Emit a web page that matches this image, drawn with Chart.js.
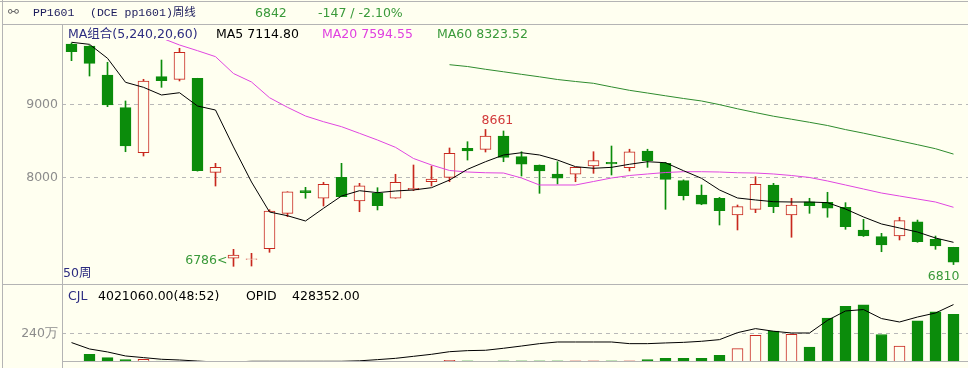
<!DOCTYPE html>
<html>
<head>
<meta charset="utf-8">
<script src="https://cdn.jsdelivr.net/npm/chart.js@4.4.1/dist/chart.umd.min.js"></script>
<style>
  html, body { margin: 0; padding: 0; background: #fffff0; }
  #wrap { position: relative; width: 968px; height: 368px; overflow: hidden; background: #fffff0;
          font-family: "DejaVu Sans", sans-serif; font-size: 12.5px; }
  .t { position: absolute; white-space: nowrap; line-height: 14px; }
  .ln { position: absolute; background: #b4b4b4; }
  canvas { position: absolute; left: 0; }
</style>
</head>
<body>
<div id="wrap">
  <canvas id="priceCanvas" width="968" height="285" style="top:0"></canvas>
  <canvas id="volCanvas" width="968" height="83" style="top:285px"></canvas>

  <!-- frame -->
  <div class="ln" style="left:0;top:1px;width:968px;height:1px"></div>
  <div class="ln" style="left:2px;top:0;width:1px;height:368px"></div>
  <div class="ln" style="left:2px;top:24px;width:966px;height:1px"></div>
  <div class="ln" style="left:62px;top:25px;width:1px;height:343px"></div>
  <div class="ln" style="left:2px;top:284px;width:966px;height:1px"></div>
  <div class="ln" style="left:62px;top:361px;width:906px;height:1px"></div>

  <!-- title row -->
  <div class="t" style="left:8px;top:5px;color:#6a6a6a;font-size:13px">⚯</div>
  <div class="t" style="left:33px;top:6px;color:#1c1c5c;font-family:'Liberation Mono',monospace;font-size:11.5px">PP1601</div>
  <div class="t" id="contractName" style="left:90px;top:6px;color:#1c1c5c;font-family:'Liberation Mono','Noto Sans CJK SC',monospace;font-size:11.5px"></div>
  <div class="t" id="lastPrice" style="left:255px;top:6px;color:#3a9a3a"></div>
  <div class="t" id="lastChange" style="left:318px;top:6px;color:#3a9a3a"></div>

  <!-- moving average legend -->
  <div class="t" style="left:68px;top:27px;color:#2c2c80;font-family:'DejaVu Sans','Noto Sans CJK SC',sans-serif">MA组合(5,240,20,60)</div>
  <div class="t" id="ma5Label" style="left:216px;top:27px;color:#000"></div>
  <div class="t" id="ma20Label" style="left:322px;top:27px;color:#e040e0"></div>
  <div class="t" id="ma60Label" style="left:437px;top:27px;color:#3a9a3a"></div>

  <div class="t" id="periodLabel" style="left:63px;top:266px;color:#2c2c80;font-family:'DejaVu Sans','Noto Sans CJK SC',sans-serif"></div>

  <!-- volume header -->
  <div class="t" style="left:68px;top:289px;color:#2c2c80">CJL</div>
  <div class="t" id="volLabel" style="left:98px;top:289px;color:#000"></div>
  <div class="t" style="left:246px;top:289px;color:#000">OPID</div>
  <div class="t" id="opiLabel" style="left:292px;top:289px;color:#000"></div>
</div>

<script>
// ---- weekly bars, PP1601 (DCE) ----
const contract = "(DCE pp1601)周线";
const prevSettle = 6989;
const openInterest = 428352;

const open  = [9832, 9804, 9407, 8959, 8342, 9384, 9348, 9362, 8074, 6896,
               6880, 7027, 7512, 7822, 7718, 8005, 7681, 7786, 7718, 7832,
               7945, 8005, 8403, 8389, 8571, 8288, 8174, 8051, 8047, 8160,
               8211, 8137, 8366, 8197, 7959, 7763, 7718, 7489, 7567, 7900,
               7489, 7671, 7663, 7595, 7284, 7192, 7201, 7397, 7156, 7047];
const high  = [9845, 9810, 9581, 9051, 9348, 9612, 9773, 9362, 8197, 7019,
               6964, 7562, 7808, 7868, 7937, 8197, 7923, 7863, 8047, 8174,
               8160, 8407, 8493, 8661, 8640, 8356, 8174, 8219, 8142, 8356,
               8434, 8390, 8390, 8210, 7970, 7900, 7730, 7626, 8014, 7923,
               7718, 7718, 7800, 7658, 7430, 7238, 7458, 7420, 7201, 7047];
const low   = [9603, 9393, 8973, 8356, 8297, 9238, 9325, 8090, 7886, 6786,
               6790, 6978, 7466, 7718, 7612, 7740, 7534, 7558, 7718, 7822,
               7886, 7945, 8242, 8352, 8219, 8023, 7786, 7914, 7945, 8060,
               8037, 8092, 8142, 7567, 7695, 7630, 7352, 7284, 7521, 7521,
               7184, 7512, 7458, 7293, 7195, 6986, 7147, 7115, 7019, 6810];
const close = [9726, 9567, 8996, 8434, 9325, 9329, 9718, 8096, 8142, 6941,
               6890, 7544, 7808, 7795, 7910, 7740, 7890, 7616, 7937, 7855,
               7982, 8334, 8366, 8571, 8279, 8184, 8092, 7992, 8142, 8233,
               8188, 8356, 8233, 7978, 7753, 7636, 7548, 7603, 7910, 7603,
               7626, 7616, 7581, 7329, 7201, 7078, 7411, 7123, 7064, 6842];

// moving averages as plotted
const ma5  = [9855, 9827, 9636, 9307, 9238, 9133, 9164, 8982, 8927, 8421,
              7941, 7530, 7479, 7407, 7581, 7749, 7822, 7795, 7818, 7832,
              7863, 7968, 8115, 8219, 8311, 8342, 8311, 8242, 8151, 8129,
              8142, 8184, 8219, 8205, 8096, 7992, 7832, 7722, 7695, 7671,
              7667, 7667, 7658, 7571, 7462, 7366, 7311, 7256, 7174, 7114.80];
const ma20 = [null, null, null, null, 10092, 9914, 9818, 9740, 9658, 9427,
              9311, 9096, 8964, 8845, 8767, 8699, 8608, 8516, 8416, 8263,
              8174, 8099, 8078, 8068, 8064, 7996, 7900, 7900, 7900, 7948,
              7996, 8030, 8051, 8071, 8082, 8082, 8078, 8068, 8064, 8051,
              8030, 8003, 7955, 7900, 7845, 7790, 7749, 7708, 7667, 7594.55];
const ma60 = [null, null, null, null, null, null, null, null, null, null,
              null, null, null, null, null, null, null, null, null, null,
              null, 9548, 9523, 9485, 9451, 9416, 9382, 9345, 9318, 9293,
              9244, 9197, 9160, 9122, 9085, 9051, 9001, 8944, 8892, 8842,
              8801, 8759, 8715, 8659, 8610, 8558, 8505, 8452, 8397, 8323.52];

// volume (万手) and its companion line
const volume = [0, 65, 37, 20, 23, 8, 1, 1, 1, 1,
                1, 1, 1, 1, 1, 1, 1, 1, 1, 1,
                1, 14, 10, 3, 10, 10, 10, 10, 10, 10,
                10, 10, 20, 31, 31, 31, 57, 113, 226, 262,
                234, 127, 372, 471, 482, 232, 135, 347, 423, 402.106];
const volLine = [164, 110, 85, 51, 37, 23, 17, 8, 0, 0,
                 6, 6, 6, 6, 6, 6, 10, 20, 31, 48,
                 65, 87, 96, 99, 116, 135, 155, 169, 169, 169,
                 169, 155, 155, 161, 166, 175, 189, 248, 282, 260,
                 245, 245, 352, 431, 443, 367, 338, 380, 414, 485];

// price ticks and volume tick
const priceTicks = [8000, 9000];
const volTicks = [240];

// annotated extremes (indexes into the arrays above)
const markedHighs = [23];
const markedLows = [9];
const lastLowMark = [49];

// ---- colours ----
const UP = '#c8281e', DOWN = '#0b8c0b', BG = '#fffff0';
const isUp = close.map((c, i) => c >= open[i]);

// ---- text blocks ----
const last = close.length - 1;
const chg = close[last] - prevSettle;
document.getElementById('contractName').textContent = contract;
document.getElementById('lastPrice').textContent = String(close[last]);
document.getElementById('lastChange').textContent = chg + ' / ' + (chg / prevSettle * 100).toFixed(2) + '%';
document.getElementById('ma5Label').textContent = 'MA5 ' + ma5[last].toFixed(2);
document.getElementById('ma20Label').textContent = 'MA20 ' + ma20[last].toFixed(2);
document.getElementById('ma60Label').textContent = 'MA60 ' + ma60[last].toFixed(2);
document.getElementById('periodLabel').textContent = close.length + '周';
document.getElementById('volLabel').textContent = (volume[last] * 10000).toFixed(2) + '(48:52)';
document.getElementById('opiLabel').textContent = openInterest.toFixed(2);

// ---- shared horizontal layout: 18px per week, axis at x=62 ----
const PLOT_LEFT = 62, PLOT_W = 906, STEP = 18;
const xMin = -0.5 - 0.5 / STEP;
const xMax = xMin + PLOT_W / STEP;
const FONT = { family: 'DejaVu Sans', size: 12.5 };

function xScale() {
  return {
    type: 'linear', min: xMin, max: xMax, offset: false, display: false,
    grid: { offset: false },
    afterFit: s => { s.paddingLeft = 0; s.paddingRight = 0; }
  };
}
function yAxis(ticks, min, max, fmt) {
  return {
    position: 'left', min, max,
    afterFit: s => { s.width = PLOT_LEFT; s.paddingTop = 0; s.paddingBottom = 0; },
    afterBuildTicks: s => { s.ticks = ticks.map(v => ({ value: v })); },
    ticks: { color: '#8c8c8c', font: FONT, padding: 4, callback: fmt },
    grid: { color: '#b8b8b8', lineWidth: 1, drawTicks: false },
    border: { display: false, dash: [4, 4] }
  };
}

const xy = arr => arr.map((v, i) => ({ x: i, y: v }));

// labels for marked highs / lows
const extremeLabels = {
  id: 'extremeLabels',
  afterDatasetsDraw(chart) {
    const { ctx, scales: { x, y } } = chart;
    ctx.save();
    ctx.font = '12.5px "DejaVu Sans"';
    ctx.textBaseline = 'alphabetic';
    markedHighs.forEach(i => {
      ctx.fillStyle = '#d23a3a';
      ctx.textAlign = 'left';
      ctx.fillText(String(high[i]), x.getPixelForValue(i) - 4, y.getPixelForValue(high[i]) - 5);
    });
    markedLows.forEach(i => {
      ctx.fillStyle = '#3a9a3a';
      ctx.textAlign = 'right';
      ctx.fillText(low[i] + '<', x.getPixelForValue(i) - 6, y.getPixelForValue(low[i]) - 2);
    });
    lastLowMark.forEach(i => {
      ctx.fillStyle = '#3a9a3a';
      ctx.textAlign = 'right';
      ctx.fillText(String(low[i]), x.getPixelForValue(i) + 6, y.getPixelForValue(low[i]) + 15);
    });
    ctx.restore();
  }
};

new Chart(document.getElementById('priceCanvas'), {
  type: 'bar',
  data: {
    datasets: [
      { type: 'line', label: 'MA5', data: xy(ma5), borderColor: '#000', borderWidth: 1,
        pointRadius: 0, tension: 0, order: 0 },
      { type: 'line', label: 'MA20', data: xy(ma20), borderColor: '#e046e0', borderWidth: 1,
        pointRadius: 0, tension: 0, order: 0 },
      { type: 'line', label: 'MA60', data: xy(ma60), borderColor: '#2e8b2e', borderWidth: 1,
        pointRadius: 0, tension: 0, order: 0 },
      { label: 'body', data: open.map((o, i) => ({ x: i, y: [o, close[i]] })),
        backgroundColor: isUp.map(u => u ? BG : DOWN),
        borderColor: isUp.map(u => u ? UP : DOWN),
        borderWidth: 1, borderSkipped: false, barThickness: 11, grouped: false, order: 1 },
      { label: 'wick', data: low.map((l, i) => ({ x: i, y: [l, high[i]] })),
        backgroundColor: isUp.map(u => u ? UP : DOWN),
        borderWidth: 0, barThickness: 1, grouped: false, order: 2 }
    ]
  },
  options: {
    responsive: false, animation: false, events: [],
    layout: { padding: { top: 40, bottom: 2, left: 0, right: 0 } },
    plugins: { legend: { display: false }, tooltip: { enabled: false } },
    scales: {
      x: xScale(),
      y: yAxis(priceTicks, 6557.5, 9886.3, v => String(v))
    }
  },
  plugins: [extremeLabels]
});

new Chart(document.getElementById('volCanvas'), {
  type: 'bar',
  data: {
    datasets: [
      { type: 'line', label: 'line', data: xy(volLine), borderColor: '#000', borderWidth: 1,
        pointRadius: 0, tension: 0, order: 0 },
      { label: 'CJL', data: xy(volume),
        backgroundColor: isUp.map(u => u ? BG : DOWN),
        borderColor: isUp.map(u => u ? UP : DOWN),
        borderWidth: 1, borderSkipped: false, barThickness: 11, grouped: false, order: 1 }
    ]
  },
  options: {
    responsive: false, animation: false, events: [],
    layout: { padding: { top: 10, bottom: 6, left: 0, right: 0 } },
    plugins: { legend: { display: false }, tooltip: { enabled: false } },
    scales: {
      x: xScale(),
      y: yAxis(volTicks, 0, 566, v => v + '万')
    }
  }
});
</script>
</body>
</html>
